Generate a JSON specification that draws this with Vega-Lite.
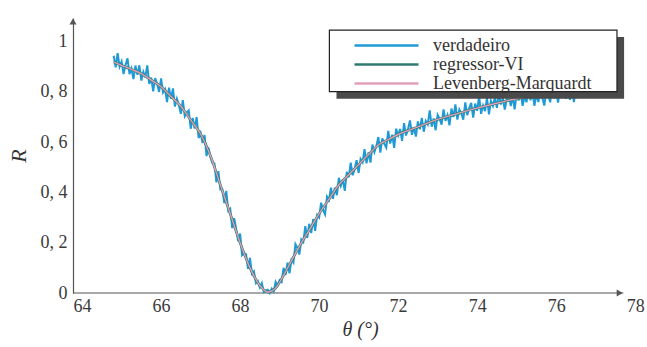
{
  "$schema": "https://vega.github.io/schema/vega-lite/v6.json",
  "width": 574,
  "height": 275,
  "autosize": "none",
  "padding": {"left": 73, "top": 18, "right": 0, "bottom": 54},
  "background": "white",
  "config": {"view": {"stroke": null}, "font": "Liberation Serif"},
  "datasets": {
    "verdadeiro": [
      {"x":64.80,"y":0.943},{"x":64.85,"y":0.897},{"x":64.90,"y":0.953},{"x":64.95,"y":0.900},{"x":65.00,"y":0.920},
      {"x":65.05,"y":0.870},{"x":65.10,"y":0.906},{"x":65.15,"y":0.933},{"x":65.20,"y":0.870},{"x":65.25,"y":0.892},
      {"x":65.30,"y":0.850},{"x":65.35,"y":0.904},{"x":65.40,"y":0.867},{"x":65.45,"y":0.905},{"x":65.50,"y":0.844},
      {"x":65.55,"y":0.879},{"x":65.60,"y":0.857},{"x":65.65,"y":0.905},{"x":65.70,"y":0.831},{"x":65.75,"y":0.856},
      {"x":65.80,"y":0.801},{"x":65.85,"y":0.854},{"x":65.90,"y":0.831},{"x":65.95,"y":0.799},{"x":66.00,"y":0.853},
      {"x":66.05,"y":0.797},{"x":66.10,"y":0.810},{"x":66.15,"y":0.759},{"x":66.20,"y":0.816},{"x":66.25,"y":0.772},
      {"x":66.30,"y":0.813},{"x":66.35,"y":0.741},{"x":66.40,"y":0.772},{"x":66.45,"y":0.747},{"x":66.50,"y":0.712},
      {"x":66.55,"y":0.767},{"x":66.60,"y":0.703},{"x":66.65,"y":0.718},{"x":66.70,"y":0.726},{"x":66.75,"y":0.653},
      {"x":66.80,"y":0.696},{"x":66.85,"y":0.654},{"x":66.90,"y":0.699},{"x":66.95,"y":0.616},{"x":67.00,"y":0.636},
      {"x":67.05,"y":0.596},{"x":67.10,"y":0.628},{"x":67.15,"y":0.544},{"x":67.20,"y":0.578},{"x":67.25,"y":0.539},
      {"x":67.30,"y":0.516},{"x":67.35,"y":0.515},{"x":67.40,"y":0.440},{"x":67.45,"y":0.484},{"x":67.50,"y":0.411},
      {"x":67.55,"y":0.411},{"x":67.60,"y":0.357},{"x":67.65,"y":0.406},{"x":67.70,"y":0.327},{"x":67.75,"y":0.335},
      {"x":67.80,"y":0.258},{"x":67.85,"y":0.297},{"x":67.90,"y":0.255},{"x":67.95,"y":0.206},{"x":68.00,"y":0.236},
      {"x":68.05,"y":0.150},{"x":68.10,"y":0.157},{"x":68.15,"y":0.154},{"x":68.20,"y":0.096},{"x":68.25,"y":0.140},
      {"x":68.30,"y":0.077},{"x":68.35,"y":0.086},{"x":68.40,"y":0.039},{"x":68.45,"y":0.047},{"x":68.50,"y":0.022},
      {"x":68.55,"y":0.039},{"x":68.60,"y":0.004},{"x":68.65,"y":0.010},{"x":68.70,"y":0.013},{"x":68.75,"y":0.000},
      {"x":68.80,"y":0.017},{"x":68.85,"y":0.006},{"x":68.90,"y":0.044},{"x":68.95,"y":0.030},{"x":69.00,"y":0.051},
      {"x":69.05,"y":0.044},{"x":69.10,"y":0.100},{"x":69.15,"y":0.072},{"x":69.20,"y":0.121},{"x":69.25,"y":0.078},
      {"x":69.30,"y":0.131},{"x":69.35,"y":0.120},{"x":69.40,"y":0.194},{"x":69.45,"y":0.179},{"x":69.50,"y":0.153},
      {"x":69.55,"y":0.213},{"x":69.60,"y":0.203},{"x":69.65,"y":0.266},{"x":69.70,"y":0.219},{"x":69.75,"y":0.275},
      {"x":69.80,"y":0.238},{"x":69.85,"y":0.294},{"x":69.90,"y":0.247},{"x":69.95,"y":0.310},{"x":70.00,"y":0.300},
      {"x":70.05,"y":0.359},{"x":70.10,"y":0.330},{"x":70.15,"y":0.312},{"x":70.20,"y":0.383},{"x":70.25,"y":0.370},
      {"x":70.30,"y":0.419},{"x":70.35,"y":0.374},{"x":70.40,"y":0.419},{"x":70.45,"y":0.389},{"x":70.50,"y":0.458},
      {"x":70.55,"y":0.426},{"x":70.60,"y":0.451},{"x":70.65,"y":0.406},{"x":70.70,"y":0.482},{"x":70.75,"y":0.460},
      {"x":70.80,"y":0.518},{"x":70.85,"y":0.468},{"x":70.90,"y":0.494},{"x":70.95,"y":0.528},{"x":71.00,"y":0.477},
      {"x":71.05,"y":0.533},{"x":71.10,"y":0.520},{"x":71.15,"y":0.572},{"x":71.20,"y":0.515},{"x":71.25,"y":0.559},
      {"x":71.30,"y":0.518},{"x":71.35,"y":0.590},{"x":71.40,"y":0.560},{"x":71.45,"y":0.585},{"x":71.50,"y":0.620},
      {"x":71.55,"y":0.558},{"x":71.60,"y":0.615},{"x":71.65,"y":0.593},{"x":71.70,"y":0.578},{"x":71.75,"y":0.644},
      {"x":71.80,"y":0.594},{"x":71.85,"y":0.629},{"x":71.90,"y":0.577},{"x":71.95,"y":0.653},{"x":72.00,"y":0.626},
      {"x":72.05,"y":0.652},{"x":72.10,"y":0.605},{"x":72.15,"y":0.675},{"x":72.20,"y":0.626},{"x":72.25,"y":0.651},
      {"x":72.30,"y":0.686},{"x":72.35,"y":0.629},{"x":72.40,"y":0.657},{"x":72.45,"y":0.622},{"x":72.50,"y":0.682},
      {"x":72.55,"y":0.651},{"x":72.60,"y":0.696},{"x":72.65,"y":0.641},{"x":72.70,"y":0.684},{"x":72.75,"y":0.670},
      {"x":72.80,"y":0.726},{"x":72.85,"y":0.661},{"x":72.90,"y":0.694},{"x":72.95,"y":0.647},{"x":73.00,"y":0.708},
      {"x":73.05,"y":0.692},{"x":73.10,"y":0.669},{"x":73.15,"y":0.730},{"x":73.20,"y":0.684},{"x":73.25,"y":0.707},
      {"x":73.30,"y":0.666},{"x":73.35,"y":0.733},{"x":73.40,"y":0.699},{"x":73.45,"y":0.750},{"x":73.50,"y":0.689},
      {"x":73.55,"y":0.729},{"x":73.60,"y":0.714},{"x":73.65,"y":0.689},{"x":73.70,"y":0.758},{"x":73.75,"y":0.707},
      {"x":73.80,"y":0.735},{"x":73.85,"y":0.756},{"x":73.90,"y":0.697},{"x":73.95,"y":0.753},{"x":74.00,"y":0.724},
      {"x":74.05,"y":0.782},{"x":74.10,"y":0.712},{"x":74.15,"y":0.745},{"x":74.20,"y":0.723},{"x":74.25,"y":0.775},
      {"x":74.30,"y":0.710},{"x":74.35,"y":0.764},{"x":74.40,"y":0.744},{"x":74.45,"y":0.777},{"x":74.50,"y":0.736},
      {"x":74.55,"y":0.797},{"x":74.60,"y":0.749},{"x":74.65,"y":0.774},{"x":74.70,"y":0.729},{"x":74.75,"y":0.771},
      {"x":74.80,"y":0.795},{"x":74.85,"y":0.743},{"x":74.90,"y":0.780},{"x":74.95,"y":0.730},{"x":75.00,"y":0.792},
      {"x":75.05,"y":0.765},{"x":75.10,"y":0.809},{"x":75.15,"y":0.744},{"x":75.20,"y":0.780},{"x":75.25,"y":0.758},
      {"x":75.30,"y":0.821},{"x":75.35,"y":0.766},{"x":75.40,"y":0.800},{"x":75.45,"y":0.744},{"x":75.50,"y":0.790},
      {"x":75.55,"y":0.759},{"x":75.60,"y":0.810},{"x":75.65,"y":0.777},{"x":75.70,"y":0.745},{"x":75.75,"y":0.802},
      {"x":75.80,"y":0.787},{"x":75.85,"y":0.758},{"x":75.90,"y":0.822},{"x":75.95,"y":0.773},{"x":76.00,"y":0.796},
      {"x":76.05,"y":0.757},{"x":76.10,"y":0.814},{"x":76.15,"y":0.780},{"x":76.20,"y":0.831},{"x":76.25,"y":0.772},
      {"x":76.30,"y":0.799},{"x":76.35,"y":0.768},{"x":76.40,"y":0.809},{"x":76.45,"y":0.759},{"x":76.50,"y":0.816},
      {"x":76.55,"y":0.789},{"x":76.60,"y":0.810}
    ],
    "regressor": [
      {"x":64.8,"y":0.918},{"x":65.0,"y":0.905},{"x":65.25,"y":0.889},{"x":65.5,"y":0.872},{"x":65.75,"y":0.846},
      {"x":66.0,"y":0.820},{"x":66.25,"y":0.781},{"x":66.5,"y":0.742},{"x":66.75,"y":0.687},{"x":67.0,"y":0.632},
      {"x":67.25,"y":0.545},{"x":67.5,"y":0.430},{"x":67.75,"y":0.315},{"x":68.0,"y":0.200},{"x":68.25,"y":0.100},
      {"x":68.5,"y":0.030},{"x":68.7,"y":0.004},{"x":68.9,"y":0.020},{"x":69.1,"y":0.070},{"x":69.3,"y":0.128},
      {"x":69.5,"y":0.185},{"x":69.75,"y":0.250},{"x":70.0,"y":0.315},{"x":70.25,"y":0.373},{"x":70.5,"y":0.430},
      {"x":70.75,"y":0.470},{"x":71.0,"y":0.510},{"x":71.25,"y":0.550},{"x":71.5,"y":0.588},{"x":71.75,"y":0.610},
      {"x":72.0,"y":0.630},{"x":72.5,"y":0.660},{"x":73.0,"y":0.690},{"x":73.5,"y":0.713},{"x":74.0,"y":0.735},
      {"x":74.5,"y":0.754},{"x":75.0,"y":0.772},{"x":75.5,"y":0.780},{"x":76.0,"y":0.788},{"x":76.6,"y":0.798}
    ],
    "lm": [
      {"x":64.8,"y":0.918},{"x":65.0,"y":0.905},{"x":65.25,"y":0.889},{"x":65.5,"y":0.872},{"x":65.75,"y":0.846},
      {"x":66.0,"y":0.820},{"x":66.25,"y":0.781},{"x":66.5,"y":0.742},{"x":66.75,"y":0.687},{"x":67.0,"y":0.632},
      {"x":67.25,"y":0.545},{"x":67.5,"y":0.430},{"x":67.75,"y":0.315},{"x":68.0,"y":0.200},{"x":68.25,"y":0.100},
      {"x":68.5,"y":0.030},{"x":68.7,"y":0.004},{"x":68.9,"y":0.020},{"x":69.1,"y":0.070},{"x":69.3,"y":0.128},
      {"x":69.5,"y":0.185},{"x":69.75,"y":0.250},{"x":70.0,"y":0.315},{"x":70.25,"y":0.373},{"x":70.5,"y":0.430},
      {"x":70.75,"y":0.470},{"x":71.0,"y":0.510},{"x":71.25,"y":0.550},{"x":71.5,"y":0.588},{"x":71.75,"y":0.610},
      {"x":72.0,"y":0.630},{"x":72.5,"y":0.660},{"x":73.0,"y":0.690},{"x":73.5,"y":0.713},{"x":74.0,"y":0.735},
      {"x":74.5,"y":0.754},{"x":75.0,"y":0.772},{"x":75.5,"y":0.780},{"x":76.0,"y":0.788},{"x":76.6,"y":0.798}
    ],
    "one": [{}]
  },
  "layer": [
    {
      "data": {"name": "one"},
      "mark": {"type": "rule", "stroke": "#555555", "strokeWidth": 1.2},
      "encoding": {
        "x": {"datum": 63.77, "type": "quantitative", "scale": {"domain": [63.77, 78.3], "nice": false, "zero": false},
          "axis": {"title": "θ (°)", "values": [64, 66, 68, 70, 72, 74, 76, 78], "domain": false, "ticks": false, "grid": false,
            "labelPadding": 4, "labelFontSize": 18, "labelFont": "Liberation Serif", "labelColor": "#3a3a3a",
            "labelFlush": false, "labelOverlap": false, "labelBound": false,
            "titleFont": "Liberation Serif", "titleFontSize": 20, "titleFontStyle": "italic", "titleFontWeight": "normal",
            "titleColor": "#333333", "titlePadding": 4}},
        "x2": {"datum": 77.7},
        "y": {"datum": 0, "type": "quantitative", "scale": {"domain": [0, 1.093], "nice": false, "zero": false},
          "axis": {"title": "R", "values": [0, 0.2, 0.4, 0.6, 0.8, 1],
            "labelExpr": "datum.value == 0 ? '0' : datum.value == 1 ? '1' : replace(format(datum.value, '.1f'), '.', ', ')",
            "domainColor": "#555555", "domainWidth": 1.2, "ticks": false, "grid": false,
            "labelPadding": 6, "labelFontSize": 18, "labelFont": "Liberation Serif", "labelColor": "#3a3a3a",
            "labelFlush": false, "labelOverlap": false,
            "titleFont": "Liberation Serif", "titleFontSize": 22, "titleFontStyle": "italic", "titleFontWeight": "normal",
            "titleColor": "#333333", "titlePadding": 10}}
      }
    },
    {
      "data": {"name": "verdadeiro"},
      "mark": {"type": "line", "strokeWidth": 2},
      "encoding": {
        "x": {"field": "x", "type": "quantitative"},
        "y": {"field": "y", "type": "quantitative"},
        "color": {"datum": "verdadeiro", "type": "nominal",
          "scale": {"domain": ["verdadeiro", "regressor-VI", "Levenberg-Marquardt"], "range": ["#1e9ad6", "#2f7b73", "#e0a0b8"]},
          "legend": {"orient": "none", "legendX": 304, "legendY": 18, "title": null, "symbolType": "M-4,0H4",
            "symbolSize": 256, "symbolStrokeWidth": 2.5, "labelFont": "Liberation Serif", "labelFontSize": 18,
            "labelColor": "#333333", "labelOffset": 37, "labelLimit": 400, "rowPadding": 0, "padding": 0, "symbolOffset": 0}}
      }
    },
    {
      "data": {"name": "regressor"},
      "mark": {"type": "line", "strokeWidth": 2.6, "interpolate": "monotone"},
      "encoding": {
        "x": {"field": "x", "type": "quantitative"},
        "y": {"field": "y", "type": "quantitative"},
        "color": {"datum": "regressor-VI", "type": "nominal"}
      }
    },
    {
      "data": {"name": "lm"},
      "mark": {"type": "line", "strokeWidth": 1.4, "interpolate": "monotone"},
      "encoding": {
        "x": {"field": "x", "type": "quantitative"},
        "y": {"field": "y", "type": "quantitative"},
        "color": {"datum": "Levenberg-Marquardt", "type": "nominal"}
      }
    },
    {
      "data": {"name": "one"},
      "mark": {"type": "point", "shape": "triangle-right", "filled": true, "color": "#555555", "size": 50, "opacity": 1},
      "encoding": {"x": {"datum": 77.61, "type": "quantitative"}, "y": {"datum": 0, "type": "quantitative"}}
    },
    {
      "data": {"name": "one"},
      "mark": {"type": "point", "shape": "triangle-up", "filled": true, "color": "#555555", "size": 50, "opacity": 1},
      "encoding": {"x": {"datum": 63.77, "type": "quantitative"}, "y": {"datum": 1.079, "type": "quantitative"}}
    },
    {
      "data": {"name": "one"},
      "mark": {"type": "rect", "fill": "#4a4a4a"},
      "encoding": {
        "x": {"datum": 70.44, "type": "quantitative"}, "x2": {"datum": 77.72},
        "y": {"datum": 0.772, "type": "quantitative"}, "y2": {"datum": 1.017}
      }
    },
    {
      "data": {"name": "one"},
      "mark": {"type": "rect", "fill": "white", "stroke": "#222222", "strokeWidth": 1.2},
      "encoding": {
        "x": {"datum": 70.26, "type": "quantitative"}, "x2": {"datum": 77.54},
        "y": {"datum": 0.800, "type": "quantitative"}, "y2": {"datum": 1.045}
      }
    }
  ]
}
